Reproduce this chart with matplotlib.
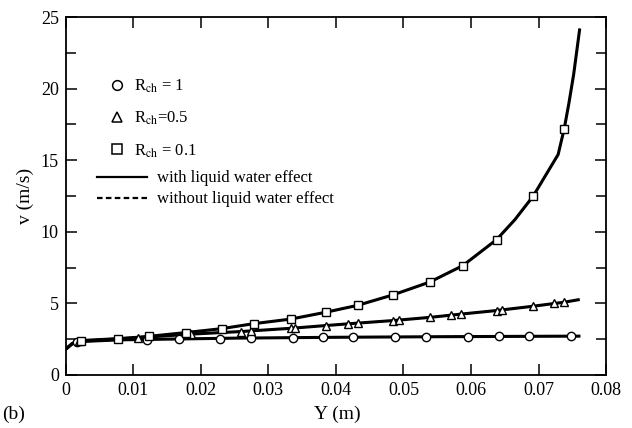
#! /usr/bin/env python3

import matplotlib
matplotlib.use('Agg')
import matplotlib.pyplot as plt
from matplotlib.lines import Line2D
from matplotlib.ticker import MultipleLocator

# curve data
y_line_c = [0, 0.001, 0.003, 0.008, 0.015, 0.025, 0.04, 0.055, 0.07, 0.0762]
v_line_c = [1.8, 2.2, 2.35, 2.45, 2.5, 2.57, 2.63, 2.67, 2.7, 2.71]

y_mark_c = [0.0016, 0.0121, 0.0168, 0.0228, 0.0274, 0.0336, 0.0381, 0.0426,
            0.0488, 0.0533, 0.0595, 0.0641, 0.0686, 0.0748]
v_mark_c = [2.3, 2.45, 2.5, 2.54, 2.58, 2.6, 2.62, 2.64, 2.65, 2.67, 2.68,
            2.69, 2.7, 2.71]

y_line_t = [0, 0.001, 0.002, 0.0107, 0.0185, 0.0259, 0.0334, 0.0385, 0.0432,
            0.0485, 0.0539, 0.0585, 0.0638, 0.0692, 0.0738, 0.0761]
v_line_t = [1.8, 2.2, 2.4, 2.6, 2.85, 3.03, 3.26, 3.45, 3.62, 3.8, 4.02, 4.25,
            4.5, 4.8, 5.08, 5.27]

y_mark_t = [0.002, 0.0107, 0.0185, 0.0259, 0.0274, 0.0334, 0.034, 0.0385,
            0.0418, 0.0432, 0.0485, 0.0493, 0.0539, 0.057, 0.0585, 0.0638,
            0.0646, 0.0692, 0.0723, 0.0738]
v_mark_t = [2.4, 2.6, 2.85, 3.03, 3.08, 3.26, 3.28, 3.45, 3.55, 3.62, 3.8,
            3.85, 4.02, 4.2, 4.25, 4.5, 4.56, 4.8, 5.02, 5.08]

y_line_s = [0, 0.001, 0.0022, 0.0077, 0.0124, 0.0178, 0.0232, 0.0278, 0.0333,
            0.0385, 0.0432, 0.0485, 0.0539, 0.0588, 0.0638, 0.0665, 0.0692,
            0.0729, 0.0738, 0.0745, 0.0752, 0.0761]
v_line_s = [1.8, 2.2, 2.35, 2.52, 2.7, 2.96, 3.24, 3.58, 3.9, 4.38, 4.86, 5.6,
            6.49, 7.64, 9.46, 10.85, 12.49, 15.4, 17.2, 19.0, 21.0, 24.2]

y_mark_s = [0.0022, 0.0077, 0.0124, 0.0178, 0.0232, 0.0278, 0.0333, 0.0385,
            0.0432, 0.0485, 0.0539, 0.0588, 0.0638, 0.0692, 0.0738]
v_mark_s = [2.35, 2.52, 2.7, 2.96, 3.24, 3.58, 3.9, 4.38, 4.86, 5.6, 6.49,
            7.64, 9.46, 12.49, 17.2]

x_ticks = [0, 0.01, 0.02, 0.03, 0.04, 0.05, 0.06, 0.07, 0.08]
x_labels = ['0', '0.01', '0.02', '0.03', '0.04', '0.05', '0.06', '0.07', '0.08']

plt.rcParams['font.family'] = ['Liberation Serif', 'DejaVu Serif']
plt.rcParams['mathtext.fontset'] = 'stix'

fig = plt.figure(figsize=(6.32, 4.28), dpi=100)
ax = fig.add_axes([0.104, 0.124, 0.855, 0.836])

mk = dict(color='black', lw=0, markerfacecolor='white',
          markeredgecolor='black', markersize=6, markeredgewidth=1)

for xs, ys in [(y_line_c, v_line_c), (y_line_t, v_line_t),
               (y_line_s, v_line_s)]:
    ax.plot(xs, ys, color='black', lw=2.2, solid_capstyle='butt')
    ax.plot(xs, ys, color='black', lw=1.2, ls=(0, (4, 2)))

ax.plot(y_mark_c, v_mark_c, marker='o', **mk)
ax.plot(y_mark_t, v_mark_t, marker='^', **mk)
ax.plot(y_mark_s, v_mark_s, marker='s', **mk)

ax.set_xlim(0, 0.08)
ax.set_ylim(0, 25)
ax.set_xticks(x_ticks)
ax.set_xticklabels(x_labels)
ax.yaxis.set_major_locator(MultipleLocator(5))
ax.yaxis.set_minor_locator(MultipleLocator(2.5))
ax.tick_params(which='both', direction='in', top=True, right=True,
               labelsize=13, width=1.1, pad=5)
ax.tick_params(which='major', length=8)
ax.tick_params(which='minor', length=7)
for s in ax.spines.values():
    s.set_linewidth(1.3)

ax.set_ylabel('v (m/s)', fontsize=14, labelpad=5)
fig.text(0.534, 0.032, 'Y (m)', fontsize=14, ha='center', va='center')
fig.text(0.004, 0.032, '(b)', fontsize=14, ha='left', va='center')

mk_h = dict(color='black', lw=0, markerfacecolor='white',
            markeredgecolor='black', markersize=7, markeredgewidth=1.1)
h1 = [Line2D([], [], marker='o', **mk_h),
      Line2D([], [], marker='^', **mk_h),
      Line2D([], [], marker='s', **mk_h)]
l1 = [r'R$_{\mathrm{ch}}$ = 1', r'R$_{\mathrm{ch}}$=0.5',
      r'R$_{\mathrm{ch}}$ = 0.1']
leg1 = ax.legend(h1, l1, loc='upper left', bbox_to_anchor=(0.067, 0.85),
                 frameon=False, fontsize=12, handlelength=1.0,
                 handletextpad=0.5, labelspacing=0.9, borderaxespad=0)
ax.add_artist(leg1)

h2 = [Line2D([], [], color='black', lw=1.6),
      Line2D([], [], color='black', lw=1.6, ls=(0, (2.5, 1.5)))]
l2 = ['with liquid water effect', 'without liquid water effect']
ax.legend(h2, l2, loc='upper left', bbox_to_anchor=(0.045, 0.59),
          frameon=False, fontsize=12, handlelength=3.0,
          handletextpad=0.6, labelspacing=0.3, borderaxespad=0)

fig.savefig('out.png', dpi=100)
